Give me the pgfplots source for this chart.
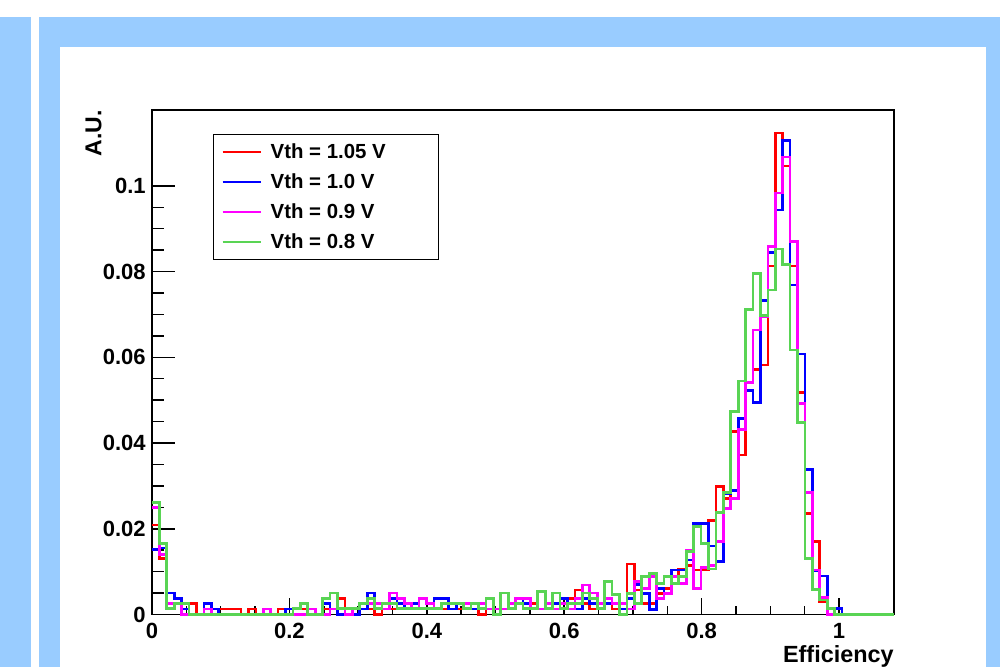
\documentclass[border=0pt]{standalone}
\usepackage{fontspec}
\setmainfont{Liberation Sans}
\usepackage{pgfplots}
\usepackage{pgfplotstable}
\pgfplotsset{compat=1.18}
\definecolor{rootRed}{HTML}{FF0000}
\definecolor{rootBlue}{HTML}{0000FF}
\definecolor{rootMagenta}{HTML}{FF00FF}
\definecolor{rootGreen}{HTML}{59D454}
\definecolor{slideBlue}{HTML}{99CCFF}

% bin left edges (100 bins, width 0.0108) and normalised contents
\pgfplotstableread{
x       r       b       m       g
0       0.0209  0.0151  0.0250  0.0261
0.0108  0.0131  0.0155  0.0140  0.0166
0.0216  0.0026  0.0050  0.0026  0.0014
0.0324  0.0026  0.0038  0.0026  0.0026
0.0432  0.0013  0.0013  0       0.0026
0.054   0.0026  0       0       0
0.0648  0       0       0       0
0.0756  0       0.0026  0.0013  0
0.0864  0.0013  0.0013  0       0
0.0972  0.0013  0       0       0
0.108   0.0013  0       0       0
0.1188  0.0013  0       0       0
0.1296  0       0       0       0
0.1404  0.0013  0       0       0
0.1512  0       0       0       0
0.162   0       0       0.0013  0
0.1728  0       0       0       0
0.1836  0.0013  0       0       0
0.1944  0       0.0013  0       0
0.2052  0.0013  0       0       0.0014
0.216   0.0013  0       0       0.0026
0.2268  0.0013  0       0.0013  0
0.2376  0       0       0       0
0.2484  0.0013  0.0026  0       0.0038
0.2592  0.0013  0.0013  0.0013  0.0050
0.27    0.0038  0       0.0013  0.0014
0.2808  0.0013  0       0       0.0014
0.2916  0.0013  0       0.0013  0.0014
0.3024  0.0013  0.0013  0.0026  0.0026
0.3132  0.0013  0.0050  0.0026  0.0038
0.324   0       0.0026  0.0026  0.0014
0.3348  0.0013  0.0026  0.0013  0.0026
0.3456  0.0013  0.0038  0.0050  0.0026
0.3564  0.0013  0.0026  0.0038  0.0014
0.3672  0.0026  0.0013  0.0026  0.0014
0.378   0.0013  0.0026  0.0013  0.0014
0.3888  0.0013  0.0013  0.0038  0.0014
0.3996  0.0013  0.0013  0.0026  0.0014
0.4104  0.0013  0.0038  0.0013  0.0014
0.4212  0.0013  0.0038  0.0026  0.0026
0.432   0.0013  0.0013  0.0026  0.0026
0.4428  0.0013  0.0026  0.0026  0.0026
0.4536  0.0013  0.0013  0.0026  0.0014
0.4644  0.0013  0.0013  0.0026  0.0026
0.4752  0       0.0013  0.0026  0.0014
0.486   0.0013  0.0013  0.0013  0.0038
0.4968  0.0013  0       0.0013  0
0.5076  0.0013  0.0013  0.0013  0.0050
0.5184  0.0013  0.0026  0.0026  0.0014
0.5292  0.0026  0.0038  0.0038  0.0026
0.54    0.0013  0.0026  0.0038  0.0014
0.5508  0.0026  0.0013  0.0013  0.0014
0.5616  0.0013  0.0053  0.0013  0.0054
0.5724  0.0026  0.0026  0.0026  0.0014
0.5832  0.0013  0.0026  0.0013  0.0050
0.594   0.0013  0.0038  0.0026  0.0014
0.6048  0.0038  0.0013  0.0013  0.0026
0.6156  0.0057  0.0013  0.0038  0.0026
0.6264  0.0026  0.0038  0.0069  0.0050
0.6372  0.0013  0.0026  0.0050  0.0038
0.648   0.0026  0.0013  0.0026  0.0014
0.6588  0.0026  0.0026  0.0038  0.0077
0.6696  0.0013  0.0026  0.0026  0.0046
0.6804  0       0.0013  0.0026  0
0.6912  0.0118  0.0037  0.0013  0.0049
0.702   0.0057  0.0070  0.0077  0.0026
0.7128  0.0026  0.0049  0.0061  0.0088
0.7236  0.0026  0.0012  0.0088  0.0096
0.7344  0.0049  0.0060  0.0037  0.0073
0.7452  0.0061  0.0049  0.0049  0.0088
0.756   0.0088  0.0104  0.0088  0.0073
0.7668  0.0106  0.0104  0.0073  0.0088
0.7776  0.0115  0.0127  0.0150  0.0147
0.7884  0.0104  0.0213  0.0061  0.0205
0.7992  0.0104  0.0213  0.0110  0.0166
0.81    0.0220  0.0160  0.0115  0.0106
0.8208  0.0298  0.0123  0.0170  0.0238
0.8316  0.0270  0.0283  0.0248  0.0285
0.8424  0.0427  0.0290  0.0271  0.0473
0.8532  0.0372  0.0458  0.0431  0.0545
0.864   0.0540  0.0522  0.0541  0.0711
0.8748  0.0571  0.0494  0.0664  0.0795
0.8856  0.0582  0.0733  0.0695  0.0697
0.8964  0.0813  0.0844  0.0858  0.0757
0.9072  0.1123  0.0944  0.0983  0.0853
0.918   0.1046  0.1106  0.1067  0.0817
0.9288  0.0813  0.0769  0.0870  0.0617
0.9396  0.0518  0.0608  0.0493  0.0448
0.9504  0.0235  0.0338  0.0285  0.0131
0.9612  0.0170  0.0102  0.0104  0.0059
0.972   0.0030  0.0090  0.0040  0.0034
0.9828  0.0013  0.0014  0       0.0014
0.9936  0       0.0014  0       0
1.0044  0       0       0       0
1.08    0       0       0       0
}\hist

\begin{document}
\begin{tikzpicture}
% slide background (1px = 0.5pt)
\useasboundingbox (0,0) rectangle (500pt,333.5pt);
\fill[white] (0,0) rectangle (500pt,333.5pt);
\fill[slideBlue] (0,0) rectangle (15.5pt,325pt);
\fill[slideBlue] (19.5pt,0) rectangle (500pt,325pt);
\fill[white] (30pt,0) rectangle (493pt,310pt);

\begin{axis}[
  at={(76pt,26.25pt)}, anchor=south west,
  scale only axis, width=371pt, height=252.25pt,
  xmin=0, xmax=1.08, ymin=0, ymax=0.1177,
  clip=false,
  axis line style={line width=0.75pt},
  tick align=inside, tick pos=left,
  every tick/.style={black, line width=0.75pt},
  xtick={0,0.2,0.4,0.6,0.8,1},
  minor x tick num=3,
  ytick={0,0.02,0.04,0.06,0.08,0.1},
  minor y tick num=3,
  xtick style={/pgfplots/major tick length=8pt, /pgfplots/minor tick length=4pt},
  ytick style={/pgfplots/major tick length=11.5pt, /pgfplots/minor tick length=6pt},
  scaled y ticks=false,
  yticklabel style={/pgf/number format/fixed, /pgf/number format/precision=2},
  /pgf/number format/assume math mode=true,
  tick label style={font=\fontsize{11}{13}\selectfont\bfseries, inner sep=0pt},
  xticklabel style={yshift=-4.25pt},
  yticklabel style={xshift=-3pt},
  xlabel={Efficiency}, ylabel={A.U.},
  every axis x label/.style={at={(rel axis cs:1,0)}, anchor=north east,
    inner sep=0pt, yshift=-15.25pt, font=\fontsize{11.7}{13}\selectfont\bfseries},
  every axis y label/.style={at={(rel axis cs:0,1)}, xshift=-25pt, rotate=90,
    anchor=south east, inner sep=0pt, font=\fontsize{11.5}{13}\selectfont\bfseries},
  legend cell align=left,
  legend image code/.code={\draw[#1, line width=1pt] (0pt,0pt) -- (19pt,0pt);},
  legend style={at={(0.0822,0.9524)}, anchor=north west, draw=black,
    line width=0.7pt, fill=white, inner xsep=4pt, inner ysep=1.25pt,
    row sep=0pt, font=\fontsize{10.2}{12}\selectfont\bfseries,
    nodes={inner sep=0pt, minimum height=15pt},
    /tikz/every odd column/.append style={column sep=4.5pt}},
]
\addplot[const plot mark left, rootRed, line width=1.35pt] table[x=x, y=r] {\hist};
\addlegendentry{\makebox[80pt][l]{Vth = 1.05 V}}
\addplot[const plot mark left, rootBlue, line width=1.35pt] table[x=x, y=b] {\hist};
\addlegendentry{\makebox[80pt][l]{Vth = 1.0 V}}
\addplot[const plot mark left, rootMagenta, line width=1.35pt] table[x=x, y=m] {\hist};
\addlegendentry{\makebox[80pt][l]{Vth = 0.9 V}}
\addplot[const plot mark left, rootGreen, line width=1.35pt] table[x=x, y=g] {\hist};
\addlegendentry{\makebox[80pt][l]{Vth = 0.8 V}}
\end{axis}
\end{tikzpicture}
\end{document}
